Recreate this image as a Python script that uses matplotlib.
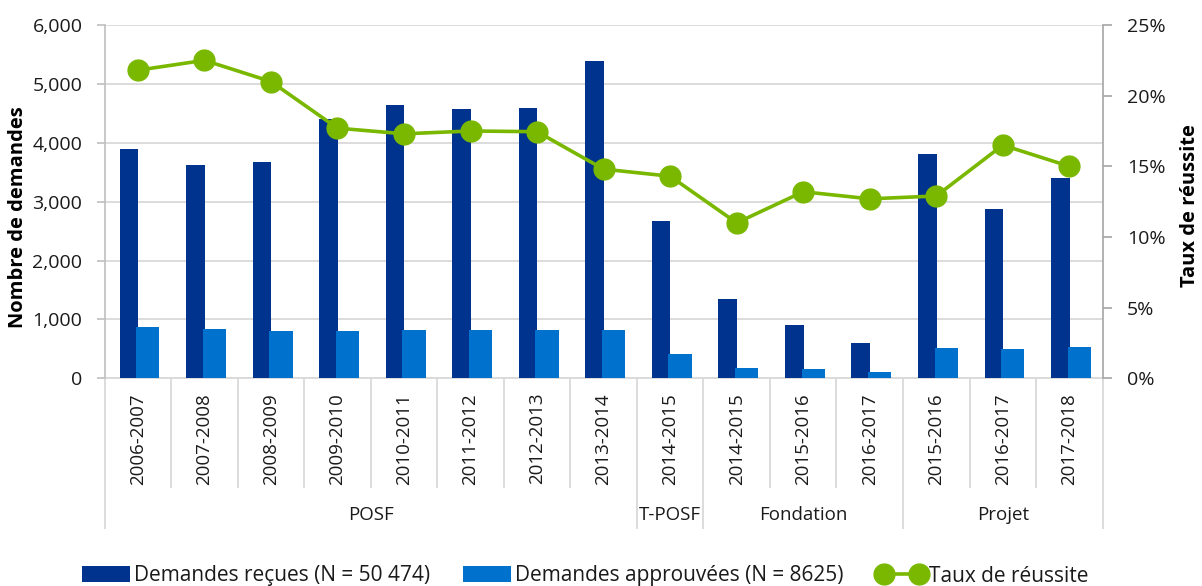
import matplotlib
matplotlib.use("Agg")
import matplotlib.pyplot as plt
import matplotlib.transforms as mtransforms
from matplotlib.ticker import FuncFormatter

plt.rcParams['font.family'] = ['Open Sans', 'DejaVu Sans']

annees = ['2006-2007', '2007-2008', '2008-2009', '2009-2010', '2010-2011',
          '2011-2012', '2012-2013', '2013-2014', '2014-2015', '2014-2015',
          '2015-2016', '2016-2017', '2015-2016', '2016-2017', '2017-2018']
groupes = ['POSF', 'T-POSF', 'Fondation', 'Projet']
taille_groupes = [8, 1, 3, 3]

recues = [3890, 3620, 3670, 4410, 4635, 4570, 4585, 5385,
          2675, 1350, 900, 595, 3805, 2875, 3405]
approuvees = [875, 840, 800, 810, 825, 825, 825, 815,
              410, 175, 150, 100, 520, 500, 540]
taux = [21.8, 22.5, 21.0, 17.7, 17.3, 17.5, 17.45, 14.8,
        14.3, 11.0, 13.2, 12.7, 12.9, 16.5, 15.0]

c_fonce = '#00338D'
c_clair = '#0072CE'
c_vert = '#7AB800'
c_grille = '#D9D9D9'

fig = plt.figure(figsize=(12.02, 5.86), dpi=100)
ax = fig.add_axes([104.6 / 1202, 1 - 378.3 / 586, 998 / 1202, 353.3 / 586])
ax2 = ax.twinx()

x = list(range(len(annees)))
ax.bar([i - 0.135 for i in x], recues, width=0.28, color=c_fonce, zorder=2,
       label='Demandes reçues (N = 50 474)')
ax.bar([i + 0.15 for i in x], approuvees, width=0.35, color=c_clair, zorder=3,
       label='Demandes approuvées (N = 8625)')
ax2.plot(x, taux, color=c_vert, linewidth=2.6, marker='o', markersize=15,
         label='Taux de réussite')

ax.set_xlim(-0.5, len(annees) - 0.5)
ax.set_ylim(0, 6000)
ax.set_yticks(range(0, 6001, 1000))
ax.yaxis.set_major_formatter(FuncFormatter(lambda v, p: f'{int(v):,}'))
ax2.set_ylim(0, 25)
ax2.set_yticks(range(0, 26, 5))
ax2.yaxis.set_major_formatter(FuncFormatter(lambda v, p: f'{int(v)}%'))

ax.grid(axis='y', color=c_grille, linewidth=1.3)
ax.set_axisbelow(True)
ax.set_xticks([])

for a in (ax, ax2):
    for s in ('top', 'bottom'):
        a.spines[s].set_visible(False)
ax.spines['right'].set_visible(False)
ax.spines['left'].set_color('#BFBFBF')
ax2.spines['left'].set_visible(False)
ax2.spines['right'].set_color('#A6A6A6')
ax2.spines['right'].set_linewidth(1.2)
ax.spines['left'].set_linewidth(1.2)

ax.tick_params(axis='y', length=6, color='#BFBFBF', width=1.2, pad=10,
               labelsize=14, labelcolor='#1a1a1a')
ax2.tick_params(axis='y', length=6.5, color='#A6A6A6', width=1.2, pad=11,
                labelsize=14, labelcolor='#1a1a1a')

ax.set_ylabel('Nombre de demandes', fontsize=14.5, fontweight='bold')
ax.yaxis.set_label_coords(-0.0768, 0.457)
ax2.set_ylabel('Taux de réussite', fontsize=14.5, fontweight='bold', rotation=90)
ax2.yaxis.set_label_coords(1.0776, 0.49)

# axe des catégories à deux niveaux
trans = mtransforms.blended_transform_factory(ax.transData, ax.transAxes)
fin_groupes = []
total = 0
for n in taille_groupes:
    total += n
    fin_groupes.append(total)
for i in range(len(annees) + 1):
    bord = i - 0.5
    bas = -0.4235 if (i == 0 or i in fin_groupes) else -0.3077
    ax.plot([bord, bord], [0, bas], color=c_grille, linewidth=1.3,
            transform=trans, clip_on=False)
ax.plot([-0.5, len(annees) - 0.5], [0, 0], color=c_grille, linewidth=1.3,
        transform=trans, clip_on=False, zorder=1)
for i, lab in enumerate(annees):
    ax.text(i, -0.171, lab, rotation=90, ha='center', va='center',
            fontsize=13.5, color='#1a1a1a', transform=trans)
debut = 0
for g, n in zip(groupes, taille_groupes):
    ax.text(debut + (n - 1) / 2, -0.387, g, ha='center', va='center',
            fontsize=13.5, color='#1a1a1a', transform=trans)
    debut += n

h1, l1 = ax.get_legend_handles_labels()
h2, l2 = ax2.get_legend_handles_labels()
fig.legend(h1 + h2, l1 + l2, loc='center', bbox_to_anchor=(0.487, 1 - 576 / 586),
           ncol=3, frameon=False, fontsize=15, handlelength=2.3,
           handletextpad=0.2, columnspacing=1.6, numpoints=2,
           handleheight=0.8, labelcolor='#1a1a1a')

fig.savefig('out.png', dpi=100)
